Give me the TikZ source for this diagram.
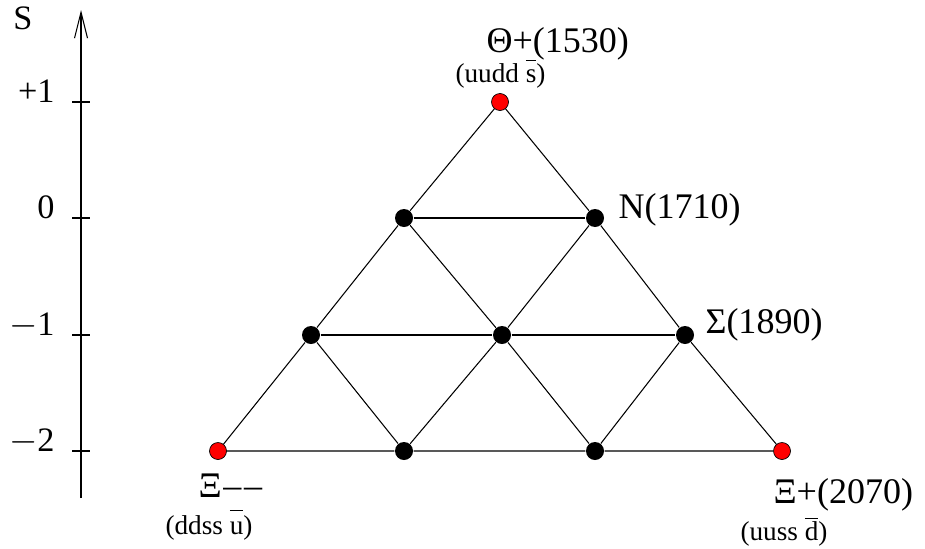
\documentclass[tikz,border=0pt]{standalone}
\usepackage{fontspec}
\setmainfont{Liberation Serif}
\usetikzlibrary{arrows.meta, positioning}

\tikzset{
  bdot/.style={circle, fill=black, inner sep=0pt, minimum size=0.36cm},
  rdot/.style={circle, fill=red, draw=black, line width=0.4pt, inner sep=0pt, minimum size=0.34cm},
  big/.style={inner sep=0pt, font=\fontsize{20.5}{24}\selectfont},
  small/.style={inner sep=0pt, font=\fontsize{15.5}{18}\selectfont},
  axlab/.style={inner sep=0pt, anchor=base east, font=\fontsize{19.5}{23}\selectfont}
}

\begin{document}
\begin{tikzpicture}[x=0.02cm, y=-0.02cm, line width=0.6pt]
        \useasboundingbox (0,0) rectangle (925,548);
        % strangeness axis
        \coordinate (ax0) at (81,498);
        \coordinate (ax1) at (81,10);
        \draw[-{Straight Barb[length=0.52cm, width=0.26cm]}] (ax0) -- (ax1);
        \node[axlab, anchor=base] (S) at (23,29) {S};
        \foreach \y/\t/\n in {102/+1/p, 218/0/z, 335/$-$1/m, 451/$-$2/mm} {
          \draw (72,\y) -- (90,\y);
          \node[axlab] (lab\n) at (55,\y) {\t};
        }
        % states
        \node[rdot] (th) at (500,102) {};
        \node[bdot] (n1) at (404,218) {};
        \node[bdot] (n2) at (595,218) {};
        \node[bdot] (s1) at (311,335) {};
        \node[bdot] (s2) at (502,335) {};
        \node[bdot] (s3) at (685,335) {};
        \node[rdot] (x1) at (218,451) {};
        \node[bdot] (x2) at (404,451) {};
        \node[bdot] (x3) at (595,451) {};
        \node[rdot] (x4) at (782,451) {};
        % lines
        \draw (th) -- (n1) -- (s1) -- (x1) -- (x2) -- (x3) -- (x4) -- (s3) -- (n2) -- (th);
        \draw (n1) -- (n2);
        \draw (s1) -- (s2) -- (s3);
        \draw (n1) -- (s2) -- (x3);
        \draw (n2) -- (s2) -- (x2);
        \draw (s1) -- (x2);
        \draw (s3) -- (x3);
        % labels
        \node[big, anchor=base west] (thlab) at (486,52) {Θ+(1530)};
        \node[small, anchor=base west] (thq) at (455,82) {(uudd $\overline{\mbox{s\vphantom{d}}}$)};
        \node[big, anchor=base west] (nlab) at (618,218) {N(1710)};
        \node[big, anchor=base west] (slab) at (705,333) {Σ(1890)};
        \node[big, anchor=base west] (xmlab) at (198,497) {Ξ\kern1pt–\kern1.5pt–};
        \node[small, anchor=base west] (xmq) at (165,534) {(ddss $\overline{\mbox{u\rule{0pt}{12pt}}}$)};
        \node[big, anchor=base west] (xplab) at (773,503) {Ξ+(2070)};
        \node[small, anchor=base west] (xpq) at (740,540) {(uuss $\overline{\mbox{d}}$)};
\end{tikzpicture}
\end{document}
